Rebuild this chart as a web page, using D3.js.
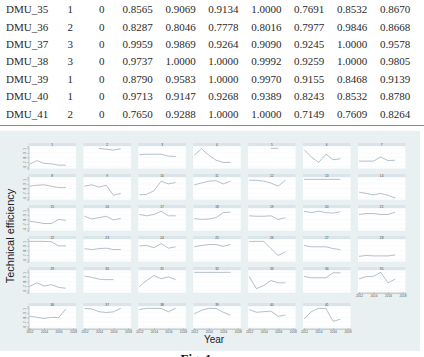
<!DOCTYPE html>
<html>
<head>
<meta charset="utf-8">
<script src="https://cdn.jsdelivr.net/npm/d3@7"></script>
<style>
  body { margin: 0; background: #fff; }
  svg { display: block; }
</style>
</head>
<body>
<div id="chart"></div>
<script>
// table rows (top part)
var dmuNames = ["DMU_35", "DMU_36", "DMU_37", "DMU_38", "DMU_39", "DMU_40", "DMU_41"];
var groupCol = [1, 2, 3, 3, 1, 1, 2];
var zeroCol = [0, 0, 0, 0, 0, 0, 0];
var tableValues = [
  [0.8565, 0.9069, 0.9134, 1.0000, 0.7691, 0.8532, 0.8670],
  [0.8287, 0.8046, 0.7778, 0.8016, 0.7977, 0.9846, 0.8668],
  [0.9959, 0.9869, 0.9264, 0.9090, 0.9245, 1.0000, 0.9578],
  [0.9737, 1.0000, 1.0000, 0.9992, 0.9259, 1.0000, 0.9805],
  [0.8790, 0.9583, 1.0000, 0.9970, 0.9155, 0.8468, 0.9139],
  [0.9713, 0.9147, 0.9268, 0.9389, 0.8243, 0.8532, 0.8780],
  [0.7650, 0.9288, 1.0000, 1.0000, 0.7149, 0.7609, 0.8264]
];

// small multiples: one series per DMU, years 2012-2017
var years = [2012, 2013, 2014, 2015, 2016, 2017];
var xTicks = [2012, 2014, 2016, 2018];
var yTicks = [0.6, 0.7, 0.8, 0.9, 1];
var effSeries = [
  [0.65, 0.73, 0.67, 0.66, 0.63, 0.63],
  [null, null, 1.00, 0.98, 0.96, 0.99],
  [0.86, 0.87, 0.87, 0.87, 0.83, 0.82],
  [0.85, 0.99, 0.85, 0.74, 0.69, 0.69],
  [null, null, null, 1.00, 1.00, null],
  [0.97, 0.81, 0.69, 0.87, 0.75, 0.77],
  [0.72, 0.72, 0.72, 0.81, 0.73, 0.74],
  [0.85, 0.87, 0.88, 0.85, 0.82, 0.82],
  [0.85, 0.88, 0.83, 0.87, 0.65, 0.69],
  [0.66, 0.67, 0.75, 0.96, 0.90, 0.93],
  [0.88, 0.92, 0.96, 0.97, 0.90, 0.96],
  [0.98, 0.98, 0.96, 0.92, 0.85, 0.98],
  [1.00, 1.00, 1.00, 1.00, 1.00, 1.00],
  [0.72, 0.69, 0.66, 0.69, 0.65, 0.59],
  [0.76, 0.74, 0.71, 0.71, 0.80, 0.78],
  [0.87, 0.81, 0.84, 0.87, 0.79, 0.82],
  [0.91, 0.88, 0.91, 0.98, 0.88, 0.88],
  [0.82, 0.80, 0.81, 0.84, 0.95, 0.96],
  [0.88, 0.87, 0.87, 0.88, 0.80, 0.84],
  [0.98, 0.95, 0.98, 0.95, 0.94, 0.97],
  [0.91, 0.93, 0.93, 0.91, 0.91, 0.96],
  [1.00, 1.00, 1.00, 0.99, 0.90, 0.90],
  [0.84, 0.82, 0.84, 0.85, 0.82, 0.82],
  [0.90, 0.91, 0.86, 0.95, 0.85, 0.88],
  [0.88, 0.91, 0.93, 0.93, 0.89, 0.93],
  [1.00, 1.00, 1.00, 0.84, 0.69, 0.77],
  [0.91, 0.88, 0.88, 0.88, 0.84, 0.82],
  [0.67, 0.69, 0.68, 0.68, 0.68, 0.70],
  [0.69, 0.77, 0.70, 0.73, 0.67, 0.65],
  [0.92, 0.89, 0.85, 0.84, 0.84, null],
  [0.69, 0.82, 0.93, 0.86, 0.90, 0.84],
  [1.00, 1.00, 1.00, 1.00, 1.00, 1.00],
  [0.91, 0.64, 0.71, 0.82, 0.77, 0.77],
  [0.91, 0.88, 0.88, 0.88, 0.99, 0.99]
];
// DMU 35-41 come straight from the table
tableValues.forEach(function(row){
  effSeries.push(row.slice(0, 6));
});

var width = 424;
var height = 357;

var svg = d3.select("#chart")
  .append("svg")
  .attr("width", width)
  .attr("height", height);

// ---- table ----
var table = svg.append("g")
  .style("font-family", "'Liberation Serif', 'Times New Roman', serif")
  .style("font-size", "11px")
  .style("fill", "#2a2a2a");

var rowY = d3.scaleLinear().domain([0, 1]).range([13.2, 30.6]);
var valX = d3.scaleLinear().domain([0, 1]).range([122.5, 165.4]);

dmuNames.forEach(function(name, i){
  var g = table.append("g").attr("transform", "translate(0," + rowY(i) + ")");
  g.append("text").attr("x", 6).text(name);
  g.append("text").attr("x", 67.5).text(groupCol[i]);
  g.append("text").attr("x", 99).text(zeroCol[i]);
  tableValues[i].forEach(function(v, j){
    g.append("text").attr("x", valX(j)).text(v.toFixed(4));
  });
});

svg.append("line")
  .attr("x1", 0).attr("x2", width)
  .attr("y1", 125.5).attr("y2", 125.5)
  .style("stroke", "#8a8a8a")
  .style("stroke-width", 1);

// ---- figure ----
svg.append("rect")
  .attr("x", 0).attr("y", 131)
  .attr("width", 420).attr("height", 220)
  .style("fill", "#e9f0f2");

var pw = 47.5;
var headH = 3.3;
var ph = 22.3;
var colStep = 54.9;

var x = d3.scaleLinear().domain([2011.85, 2018.4]).range([0, pw]);
var y = d3.scaleLinear().domain([0.555, 1.045]).range([ph, 0]);

var line = d3.line()
  .defined(function(d){ return d.v != null; })
  .x(function(d){ return x(d.year); })
  .y(function(d){ return y(d.v); });

var panels = svg.append("g")
  .style("font-family", "'Liberation Sans', Arial, sans-serif");

effSeries.forEach(function(series, i){
  var col = i % 7;
  var row = Math.floor(i / 7);
  var px = 28.5 + col * colStep;
  var py = 143 + row * 31 + (row == 5 ? 5 : 0);

  var g = panels.append("g")
    .attr("transform", "translate(" + px + "," + py + ")");

  g.append("rect")
    .attr("width", pw).attr("height", headH)
    .style("fill", "#dbe4e8");

  g.append("text")
    .attr("x", pw / 2).attr("y", headH - 0.5)
    .attr("text-anchor", "middle")
    .style("font-size", "3.2px")
    .style("fill", "#444")
    .text(i + 1);

  var plot = g.append("g").attr("transform", "translate(0," + headH + ")");

  plot.append("rect")
    .attr("width", pw).attr("height", ph)
    .style("fill", "#fff");

  plot.selectAll(".grid")
    .data(yTicks)
    .enter()
    .append("line")
    .attr("x1", 0).attr("x2", pw)
    .attr("y1", function(d){ return y(d); })
    .attr("y2", function(d){ return y(d); })
    .style("stroke", "#eef3f5")
    .style("stroke-width", 0.4);

  var pts = years.map(function(yr, k){ return {year: yr, v: series[k]}; });
  plot.append("path")
    .datum(pts)
    .attr("d", line)
    .style("fill", "none")
    .style("stroke", "#7b8c9b")
    .style("stroke-width", 0.55);

  // y axis on the first column
  if (col == 0) {
    var yAxis = d3.axisLeft(y).tickValues(yTicks).tickSize(1.2).tickPadding(0.8)
      .tickFormat(function(d){ return d == 1 ? "1" : d3.format(".1f")(d).replace(/^0/, ""); });
    var ya = plot.append("g").call(yAxis);
    ya.select(".domain").style("stroke", "#666").style("stroke-width", 0.4);
    ya.selectAll(".tick line").style("stroke", "#666").style("stroke-width", 0.4);
    ya.selectAll(".tick text")
      .style("font-size", "3.2px")
      .style("fill", "#555")
      .attr("text-anchor", "middle")
      .attr("transform", "rotate(-90)")
      .attr("x", 0)
      .attr("dy", 0)
      .attr("y", -2.6);
  }

  // x axis on the bottom panels
  if (row == 5 || i == 34) {
    var xAxis = d3.axisBottom(x).tickValues(xTicks).tickSize(1.2).tickPadding(0.8)
      .tickFormat(d3.format("d"));
    var xa = plot.append("g")
      .attr("transform", "translate(0," + ph + ")")
      .call(xAxis);
    xa.select(".domain").style("stroke", "#666").style("stroke-width", 0.4);
    xa.selectAll(".tick line").style("stroke", "#666").style("stroke-width", 0.4);
    xa.selectAll(".tick text")
      .style("font-size", "3.2px")
      .style("fill", "#555");
  }
});

// axis titles
svg.append("text")
  .attr("transform", "translate(14,236) rotate(-90)")
  .attr("text-anchor", "middle")
  .style("font-family", "'Liberation Sans', Arial, sans-serif")
  .style("font-size", "11px")
  .style("fill", "#222")
  .text("Technical efficiency");

svg.append("text")
  .attr("x", 214).attr("y", 343)
  .attr("text-anchor", "middle")
  .style("font-family", "'Liberation Sans', Arial, sans-serif")
  .style("font-size", "10px")
  .style("fill", "#222")
  .text("Year");

// caption, partly below the page edge as in the source
svg.append("text")
  .attr("x", 196).attr("y", 363)
  .attr("text-anchor", "middle")
  .style("font-family", "'Liberation Serif', 'Times New Roman', serif")
  .style("font-size", "13px")
  .style("font-weight", "bold")
  .style("fill", "#111")
  .text("Fig. 1");
</script>
</body>
</html>
